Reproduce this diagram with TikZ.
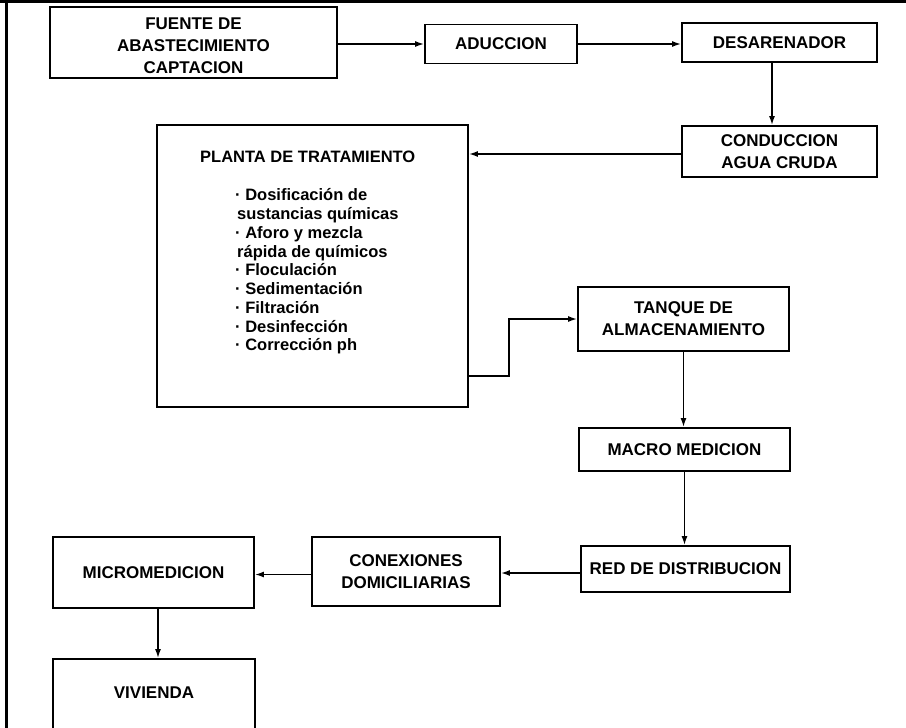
\documentclass[tikz,border=0pt]{standalone}
\usepackage{fontspec}
\setmainfont{Liberation Sans}
\usetikzlibrary{arrows.meta}

\begin{document}
\begin{tikzpicture}[x=1pt, y=-1pt,
    box/.style={draw, line width=1.8pt, inner sep=0pt, align=center,
      font=\bfseries\fontsize{17}{22}\selectfont},
    item/.style={inner sep=0pt, font=\bfseries\fontsize{16.5}{19}\selectfont},
    flow/.style={line width=1.6pt, -{Latex[length=9pt, width=6pt]}}]
      \useasboundingbox (0,0) rectangle (906,728);
      \clip (0,0) rectangle (906,728);
      % marco
      \draw[line width=3pt] (0,1.5) -- (906,1.5);
      \draw[line width=3pt] (6.5,0) -- (6.5,728);

      \node[box, minimum width=287pt, minimum height=71pt, text height=62pt] (fuente) at (193.5,42.5) {FUENTE DE\\ABASTECIMIENTO\\CAPTACION};
      \node[box, minimum width=152pt, minimum height=39pt] (aduccion) at (501,44) {ADUCCION};
      \node[box, minimum width=195pt, minimum height=39pt] (desarenador) at (779.5,42.5) {DESARENADOR};
      \node[box, minimum width=195pt, minimum height=51pt] (conduccion) at (779.5,151.5) {CONDUCCION\\AGUA CRUDA};

      % planta y sus pasos
      \node[box, minimum width=311pt, minimum height=282pt] (planta) at (312.5,266) {};
      \node[item, anchor=west] (plantatit) at (200,157) {PLANTA DE TRATAMIENTO};
      \foreach \dx/\txt [count=\i] in {0/· Dosificación de, 2/sustancias químicas,
          0/· Aforo y mezcla, 2/rápida de químicos, 0/· Floculación, 0/· Sedimentación,
          0/· Filtración, 0/· Desinfección, 0/· Corrección ph}
        \node[item, anchor=base west] (paso\i) at ({235+\dx},{182+\i*18.75}) {\txt};

      \node[box, minimum width=211pt, minimum height=64pt] (tanque) at (683.5,319) {TANQUE DE\\ALMACENAMIENTO};
      \node[box, minimum width=211pt, minimum height=43pt] (macro) at (684.5,449.5) {MACRO MEDICION};
      \node[box, minimum width=209pt, minimum height=46pt] (red) at (685.5,569) {RED DE DISTRIBUCION};
      \node[box, minimum width=188pt, minimum height=69pt] (conexiones) at (406,571.5) {CONEXIONES\\DOMICILIARIAS};
      \node[box, minimum width=201pt, minimum height=71pt] (micro) at (153.5,572.5) {MICROMEDICION};
      \node[box, minimum width=202pt, minimum height=82pt, text depth=15pt] (vivienda) at (154,700) {VIVIENDA};

      \coordinate (psal) at (planta.east |- 0,376);

      \draw[flow] (fuente.east |- aduccion.west) -- (aduccion.west);
      \draw[flow] (aduccion.east) -- (aduccion.east -| desarenador.west);
      \draw[flow] ([xshift=-7.5pt]desarenador.south) -- ([xshift=-7.5pt]conduccion.north);
      \draw[flow] ([yshift=-2.5pt]conduccion.west) -- ([yshift=-2.5pt]conduccion.west -| planta.east);
      \draw[flow] (psal) -- ++(40,0) |- (tanque.west);
      \draw[flow] (tanque.south) -- (tanque.south |- macro.north);
      \draw[flow] (macro.south) -- (macro.south |- red.north);
      \draw[flow] ([yshift=-4pt]red.west) -- ([yshift=-4pt]red.west -| conexiones.east);
      \draw[flow] ([yshift=-3pt]conexiones.west) -- ([yshift=-3pt]conexiones.west -| micro.east);
      \draw[flow] ([xshift=4.5pt]micro.south) -- ([xshift=4.5pt]micro.south |- vivienda.north);
    \end{tikzpicture}
\end{document}
